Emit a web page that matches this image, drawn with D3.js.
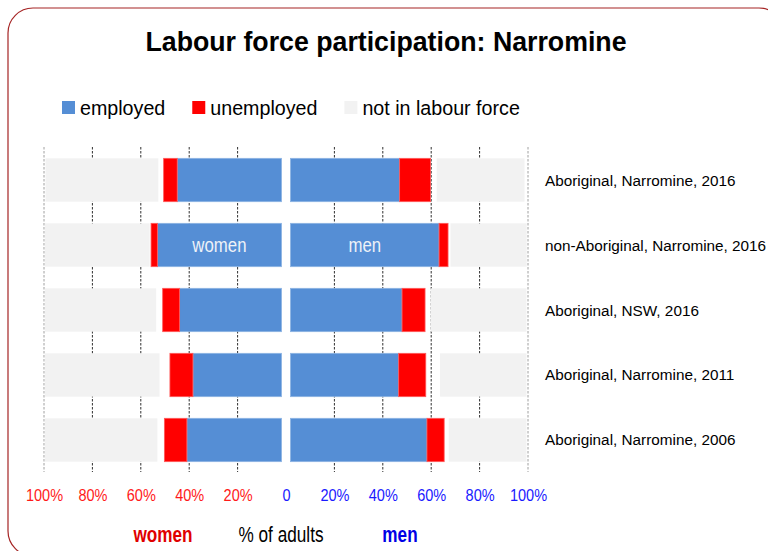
<!DOCTYPE html>
<html>
<head>
<meta charset="utf-8">
<script src="https://cdn.jsdelivr.net/npm/d3@7"></script>
<style>
  body { margin: 0; background: #fff; }
  text { font-family: "Liberation Sans", Arial, sans-serif; }
</style>
</head>
<body>
<div id="chart"></div>
<script>
//Rows of the chart, top to bottom
var rows = ["Aboriginal, Narromine, 2016", "non-Aboriginal, Narromine, 2016", "Aboriginal, NSW, 2016",
            "Aboriginal, Narromine, 2011", "Aboriginal, Narromine, 2006"];

//Women, % of adults
var womenEmployed   = [43.1, 51.3, 42.1, 36.6, 39.1];
var womenUnemployed = [5.6, 2.6, 7.0, 9.5, 9.3];
var womenNotStated  = [2.2, 0.6, 2.7, 4.3, 2.9];
var womenNotInLF    = [46.6, 43.3, 46.0, 47.4, 46.5];

//Men, % of adults
var menEmployed   = [45.1, 61.4, 46.1, 44.7, 56.4];
var menUnemployed = [12.8, 3.7, 9.5, 11.2, 7.1];
var menNotStated  = [2.5, 1.0, 2.3, 5.9, 1.9];
var menNotInLF    = [36.3, 31.5, 39.6, 35.7, 32.1];

var tickValues = [-100, -80, -60, -40, -20, 0, 20, 40, 60, 80, 100];

var keys = ["employed", "unemployed", "notStated", "notInLF"];
var legendLabels = ["employed", "unemployed", "not in labour force"];
var colors = {employed: "#558ed5", unemployed: "#ff0000", notStated: "none", notInLF: "#f2f2f2"};
var strokes = {employed: "#8db4e3", unemployed: "#ff5a5a", notStated: "none", notInLF: "none"};

//Canvas
var width = 768, height = 551;
var svg = d3.select("#chart").append("svg")
            .attr("width", width)
            .attr("height", height);

//Rounded frame
svg.append("rect")
   .attr("x", 8).attr("y", 8)
   .attr("width", 776).attr("height", 548)
   .attr("rx", 25).attr("ry", 25)
   .attr("fill", "none")
   .attr("stroke", "#a52424")
   .attr("stroke-width", 1.2);

//Horizontal text squeeze (the source uses a narrow face)
function place(sel, x, y, sx) {
  return sel.attr("transform", "translate(" + x + "," + y + ") scale(" + sx + ",1)");
}

//Title
place(svg.append("text"), 386, 51, 0.99)
   .attr("text-anchor", "middle")
   .attr("font-size", 27)
   .attr("font-weight", "bold")
   .attr("fill", "#000")
   .text("Labour force participation: Narromine");

//Scales
var x = d3.scaleLinear().domain([-100, 100]).range([44, 528]);
var y = d3.scaleBand().domain(rows).range([147.5, 472.5]).paddingInner(0.333).paddingOuter(0.1667);
var gap = 4.5; //white gap either side of the zero line

//Gridlines
svg.append("g").selectAll("line")
   .data(tickValues.filter(function(d) { return d != 0; }))
   .enter().append("line")
   .attr("x1", function(d) { return x(d); })
   .attr("x2", function(d) { return x(d); })
   .attr("y1", 147).attr("y2", 472)
   .attr("stroke", function(d) { return Math.abs(d) == 100 ? "#a0a0a0" : "#303030"; })
   .attr("stroke-width", 1)
   .attr("stroke-dasharray", "2.5,1.5");

//Build tables and stacks
function table(emp, unemp, ns, nilf) {
  return rows.map(function(r, i) {
    return {label: r, employed: emp[i], unemployed: unemp[i], notStated: ns[i], notInLF: nilf[i]};
  });
}
var stack = d3.stack().keys(keys);
var women = stack(table(womenEmployed, womenUnemployed, womenNotStated, womenNotInLF));
var men = stack(table(menEmployed, menUnemployed, menNotStated, menNotInLF));

function drawSide(series, side) {
  var g = svg.append("g");
  g.selectAll("g")
   .data(series.filter(function(s) { return s.key != "notStated"; }))
   .enter().append("g")
   .attr("fill", function(s) { return colors[s.key]; })
   .attr("stroke", function(s) { return strokes[s.key]; })
   .attr("stroke-width", 0.8)
   .selectAll("rect")
   .data(function(s) { return s; })
   .enter().append("rect")
   .attr("x", function(d) { return side < 0 ? x(-d[1]) - gap : x(d[0]) + gap; })
   .attr("width", function(d) { return x(d[1]) - x(d[0]); })
   .attr("y", function(d) { return y(d.data.label); })
   .attr("height", y.bandwidth());
}
drawSide(women, -1);
drawSide(men, 1);

//Labels inside the non-Aboriginal row
var inner = rows[1];
var wEmp = women[0][1], mEmp = men[0][1];
place(svg.append("text"), (x(-wEmp[1]) - gap + x(-wEmp[0]) - gap) / 2, y(inner) + y.bandwidth() / 2 + 7, 0.8)
   .attr("text-anchor", "middle").attr("font-size", 21).attr("fill", "#eef2f8").text("women");
place(svg.append("text"), (x(mEmp[0]) + gap + x(mEmp[1]) + gap) / 2, y(inner) + y.bandwidth() / 2 + 7, 0.8)
   .attr("text-anchor", "middle").attr("font-size", 21).attr("fill", "#eef2f8").text("men");

//Row labels on the right
svg.append("g").selectAll("text")
   .data(rows)
   .enter().append("text")
   .attr("x", 545)
   .attr("y", function(d) { return y(d) + y.bandwidth() / 2 + 5.5; })
   .attr("font-size", 15.3)
   .attr("fill", "#000")
   .text(function(d) { return d; });

//Axis
var axis = svg.append("g")
   .attr("transform", "translate(0,486)")
   .call(d3.axisBottom(x).tickValues(tickValues).tickSize(0)
          .tickFormat(function(d) { return d == 0 ? "0" : Math.abs(d) + "%"; }));
axis.select(".domain").remove();
axis.selectAll(".tick text")
    .attr("font-size", 16.5)
    .attr("font-family", "Liberation Sans, Arial, sans-serif")
    .attr("fill", function(d) { return d < 0 ? "#ff1a1a" : "#1a1aff"; })
    .attr("transform", "scale(0.88,1)");

//Bottom labels
place(svg.append("text"), 163, 542, 0.78)
   .attr("text-anchor", "middle").attr("font-size", 22).attr("font-weight", "bold").attr("fill", "#e00000").text("women");
place(svg.append("text"), 281, 542, 0.8)
   .attr("text-anchor", "middle").attr("font-size", 21.5).attr("fill", "#000").text("% of adults");
place(svg.append("text"), 400, 542, 0.78)
   .attr("text-anchor", "middle").attr("font-size", 22).attr("font-weight", "bold").attr("fill", "#0000e6").text("men");

//Legend
var legendColors = [colors.employed, colors.unemployed, colors.notInLF];
var lx = 62;
legendLabels.forEach(function(label, i) {
  svg.append("rect")
     .attr("x", lx).attr("y", 101)
     .attr("width", 13).attr("height", 13)
     .attr("fill", legendColors[i]);
  var t = place(svg.append("text"), lx + 18, 114.5, 0.96)
     .attr("font-size", 20.5)
     .attr("fill", "#000")
     .text(label);
  lx = lx + 18 + t.node().getComputedTextLength() * 0.96 + 27;
});
</script>
</body>
</html>
